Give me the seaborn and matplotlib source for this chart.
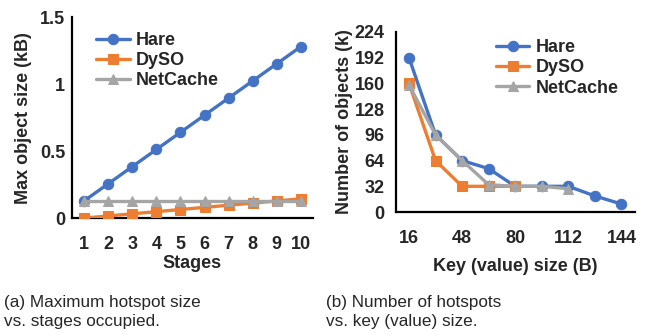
import matplotlib
matplotlib.use("Agg")
import matplotlib.pyplot as plt
import seaborn as sns
import pandas as pd

# ---- data ----
stages = [1, 2, 3, 4, 5, 6, 7, 8, 9, 10]
hare_a = [0.128, 0.256, 0.384, 0.512, 0.640, 0.768, 0.896, 1.024, 1.152, 1.280]
dyso_a = [0.0, 0.016, 0.032, 0.048, 0.064, 0.080, 0.096, 0.112, 0.128, 0.144]
netcache_a = [0.128] * 10

key_sizes = [16, 32, 48, 64, 80, 96, 112, 128, 144]
hare_b = [192, 96, 64, 54, 32, 32, 32, 20, 10]
dyso_keys = [16, 32, 48, 64, 80]
dyso_b = [160, 64, 32, 32, 32]
netcache_keys = [16, 32, 48, 64, 80, 96, 112]
netcache_b = [158, 96, 64, 34, 32, 32, 29]

series = ["Hare", "DySO", "NetCache"]
colors = ["#4472C4", "#ED7D31", "#A5A5A5"]
markers = ["o", "s", "^"]
msizes = [7.5, 6.5, 7.5]

sns.set_style("white")
plt.rcParams["font.family"] = ["Liberation Sans", "DejaVu Sans"]

fig = plt.figure(figsize=(6.46, 3.35), dpi=100)
ax1 = fig.add_axes([0.1115, 0.349, 0.373, 0.600])
ax2 = fig.add_axes([0.6125, 0.367, 0.370, 0.538])

dfa = pd.concat([
    pd.DataFrame({"x": stages, "y": hare_a, "s": "Hare"}),
    pd.DataFrame({"x": stages, "y": dyso_a, "s": "DySO"}),
    pd.DataFrame({"x": stages, "y": netcache_a, "s": "NetCache"}),
])
dfb = pd.concat([
    pd.DataFrame({"x": key_sizes, "y": hare_b, "s": "Hare"}),
    pd.DataFrame({"x": dyso_keys, "y": dyso_b, "s": "DySO"}),
    pd.DataFrame({"x": netcache_keys, "y": netcache_b, "s": "NetCache"}),
])

for ax, df in [(ax1, dfa), (ax2, dfb)]:
    for name, c, m, ms in zip(series, colors, markers, msizes):
        sub = df[df["s"] == name]
        sns.lineplot(data=sub, x="x", y="y", ax=ax, color=c, marker=m,
                     markersize=ms, markeredgecolor=c, linewidth=2.4,
                     label=name, sort=False, zorder=3 if name != "Hare" else 2)

FS = 13
bold = dict(fontsize=FS, fontweight="bold")

# left axes
ax1.set_xlim(0.5, 10.5)
ax1.set_ylim(0, 1.5)
ax1.set_xticks(stages)
ax1.set_xticklabels([str(s) for s in stages], **bold)
ax1.set_yticks([0, 0.5, 1, 1.5])
ax1.set_yticklabels(["0", "0.5", "1", "1.5"], **bold)
ax1.set_xlabel("Stages", labelpad=1.5, **bold)
ax1.set_ylabel("Max object size (kB)", labelpad=6, **bold)

# right axes
ax2.set_xlim(8, 152)
ax2.set_ylim(0, 224)
ax2.set_xticks([16, 48, 80, 112, 144])
ax2.set_xticklabels(["16", "48", "80", "112", "144"], **bold)
ax2.set_yticks(range(0, 225, 32))
ax2.set_yticklabels([str(v) for v in range(0, 225, 32)], **bold)
ax2.set_xlabel("Key (value) size (B)", labelpad=8, **bold)
ax2.set_ylabel("Number of objects (k)", labelpad=1, **bold)

for ax in (ax1, ax2):
    for side in ("top", "right"):
        ax.spines[side].set_visible(False)
    for side in ("left", "bottom"):
        ax.spines[side].set_color("black")
        ax.spines[side].set_linewidth(1.6)
    ax.tick_params(axis="both", length=0)
    ax.tick_params(axis="x", pad=13)
ax1.tick_params(axis="y", pad=5)
ax2.tick_params(axis="y", pad=8)

legkw = dict(loc="upper left", frameon=False, handlelength=1.85,
             handletextpad=0.35, labelspacing=0.17, borderaxespad=0,
             borderpad=0, prop=dict(size=FS, weight="bold"))
ax1.legend(bbox_to_anchor=(0.10, 0.925), **legkw)
ax2.legend(bbox_to_anchor=(0.42, 0.958), **legkw)

capkw = dict(fontsize=12.3, ha="left", va="bottom", linespacing=1.3)
fig.text(0.006, 0.018, "(a) Maximum hotspot size\nvs. stages occupied.", **capkw)
fig.text(0.505, 0.018, "(b) Number of hotspots\nvs. key (value) size.", **capkw)

fig.savefig("out.png", dpi=100)
